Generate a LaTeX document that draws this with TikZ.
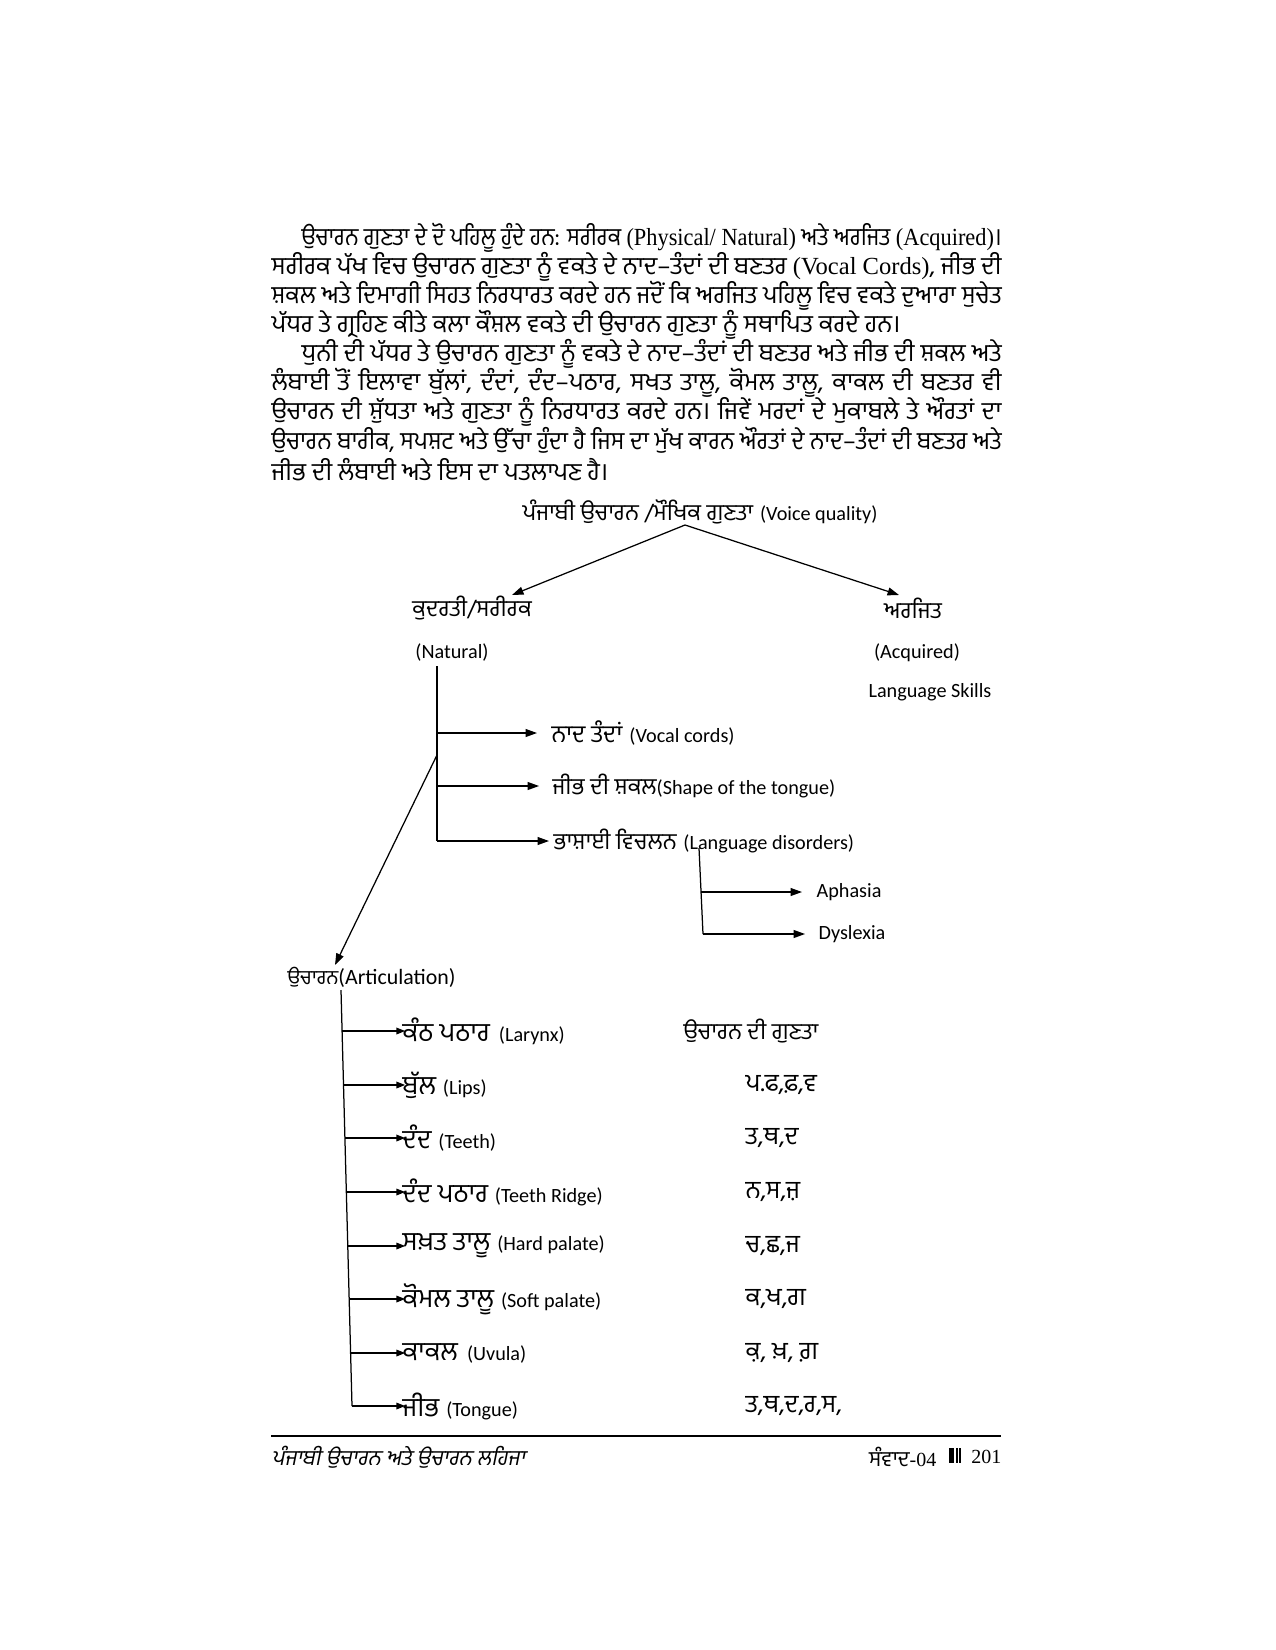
\documentclass[tikz,border=0pt]{standalone}
\usepackage{fontspec}
\usepackage{graphicx}
\usetikzlibrary{arrows.meta}
\newfontfamily\gurf[Script=Gurmukhi]{Hind Jalandhar}
\newfontfamily\gurit[Script=Gurmukhi,FakeSlant=0.2]{Hind Jalandhar}
\newfontfamily\calf{Carlito}
\newfontfamily\serf{Liberation Serif}
\newcommand\BL[1]{{\serf #1}}
\newcommand\DG[1]{{\gurf\fontsize{11bp}{13bp}\selectfont #1}}
\newcommand\DGb[1]{{\gurf\fontsize{11.6bp}{13bp}\selectfont #1}}
\newcommand\DGa[1]{{\gurf\fontsize{12.6bp}{14bp}\selectfont #1}}
\newcommand\DGc[1]{{\gurf\fontsize{12bp}{14bp}\selectfont #1}}
\newcommand\DL[1]{{\calf\fontsize{9.7bp}{12bp}\selectfont #1}}
\newsavebox\jbox
\newcommand\jline[2]{\sbox\jbox{#2}\ifdim\wd\jbox>#1\relax\resizebox{#1}{\height}{\usebox\jbox}\else\hbox to #1{\spaceskip=\fontdimen2\font plus 1fil minus 0.15\fontdimen2\font\relax #2}\fi}
\begin{document}
\begin{tikzpicture}[x=0.48bp,y=-0.48bp,line width=0.6bp,
  arr/.style={-{Triangle[length=5.5bp,width=3.8bp]}},
  arrs/.style={-{Triangle[length=4.2bp,width=3.2bp]}},
  body/.style={inner sep=0pt,anchor=west,font=\gurf\fontsize{11.8bp}{14bp}\selectfont},
  lbl/.style={inner sep=0pt},
  foot/.style={inner sep=0pt,font=\fontsize{10.3bp}{12bp}\selectfont}]
\useasboundingbox (0,0) rectangle (1275,1650);
\fill[white] (0,0) rectangle (1275,1650);
% ---------------- body text ----------------
\node[body] (p1) at (301,238.0) {\jline{336bp}{ਉਚਾਰਨ ਗੁਣਤਾ ਦੇ ਦੋ ਪਹਿਲੂ ਹੁੰਦੇ ਹਨ: ਸਰੀਰਕ \BL{(Physical/ Natural)} ਅਤੇ ਅਰਜਿਤ \BL{(Acquired)}।}};
\node[body] (p2) at (271,266.9) {\jline{350.4bp}{ਸਰੀਰਕ ਪੱਖ ਵਿਚ ਉਚਾਰਨ ਗੁਣਤਾ ਨੂੰ ਵਕਤੇ ਦੇ ਨਾਦ–ਤੰਦਾਂ ਦੀ ਬਣਤਰ \BL{(Vocal Cords)}, ਜੀਭ ਦੀ}};
\node[body] (p3) at (271,295.8) {\jline{350.4bp}{ਸ਼ਕਲ ਅਤੇ ਦਿਮਾਗੀ ਸਿਹਤ ਨਿਰਧਾਰਤ ਕਰਦੇ ਹਨ ਜਦੋਂ ਕਿ ਅਰਜਿਤ ਪਹਿਲੂ ਵਿਚ ਵਕਤੇ ਦੁਆਰਾ ਸੁਚੇਤ}};
\node[body] (p4) at (271,324.7) {ਪੱਧਰ ਤੇ ਗ੍ਰਹਿਣ ਕੀਤੇ ਕਲਾ ਕੌਸ਼ਲ ਵਕਤੇ ਦੀ ਉਚਾਰਨ ਗੁਣਤਾ ਨੂੰ ਸਥਾਪਿਤ ਕਰਦੇ ਹਨ।};
\node[body] (p5) at (301,353.6) {\jline{336bp}{ਧੁਨੀ ਦੀ ਪੱਧਰ ਤੇ ਉਚਾਰਨ ਗੁਣਤਾ ਨੂੰ ਵਕਤੇ ਦੇ ਨਾਦ–ਤੰਦਾਂ ਦੀ ਬਣਤਰ ਅਤੇ ਜੀਭ ਦੀ ਸ਼ਕਲ ਅਤੇ}};
\node[body] (p6) at (271,382.5) {\jline{350.4bp}{ਲੰਬਾਈ ਤੋਂ ਇਲਾਵਾ ਬੁੱਲਾਂ, ਦੰਦਾਂ, ਦੰਦ–ਪਠਾਰ, ਸਖਤ ਤਾਲੂ, ਕੋਮਲ ਤਾਲੂ, ਕਾਕਲ ਦੀ ਬਣਤਰ ਵੀ}};
\node[body] (p7) at (271,411.4) {\jline{350.4bp}{ਉਚਾਰਨ ਦੀ ਸ਼ੁੱਧਤਾ ਅਤੇ ਗੁਣਤਾ ਨੂੰ ਨਿਰਧਾਰਤ ਕਰਦੇ ਹਨ। ਜਿਵੇਂ ਮਰਦਾਂ ਦੇ ਮੁਕਾਬਲੇ ਤੇ ਔਰਤਾਂ ਦਾ}};
\node[body] (p8) at (271,440.3) {\jline{350.4bp}{ਉਚਾਰਨ ਬਾਰੀਕ, ਸਪਸ਼ਟ ਅਤੇ ਉੱਚਾ ਹੁੰਦਾ ਹੈ ਜਿਸ ਦਾ ਮੁੱਖ ਕਾਰਨ ਔਰਤਾਂ ਦੇ ਨਾਦ–ਤੰਦਾਂ ਦੀ ਬਣਤਰ ਅਤੇ}};
\node[body] (p9) at (271,469.2) {ਜੀਭ ਦੀ ਲੰਬਾਈ ਅਤੇ ਇਸ ਦਾ ਪਤਲਾਪਣ ਹੈ।};
% ---------------- diagram: top ----------------
\node[lbl] (title) at (700,512) {\DG{ਪੰਜਾਬੀ ਉਚਾਰਨ /ਮੌਖਿਕ ਗੁਣਤਾ} \DL{(Voice quality)}};
\node[lbl] (nat) at (472,608) {\DG{ਕੁਦਰਤੀ/ਸਰੀਰਕ}};
\node[lbl] (acq) at (913,608) {\DG{ਅਰਜਿਤ}};
\node[lbl] (natE) at (452,653) {\DL{(Natural)}};
\node[lbl] (acqE) at (917,653) {\DL{(Acquired)}};
\node[lbl] (skills) at (930,692) {\DL{Language Skills}};
\coordinate (apex) at (685,525);
\coordinate (natTip) at (512,595);
\coordinate (acqTip) at (899,595);
\draw[arr] (apex) -- (natTip);
\draw[arr] (apex) -- (acqTip);
% ---------------- natural branch ----------------
\coordinate (t1top) at (437,666);
\coordinate (n1) at (437,733);
\coordinate (n2) at (437,786);
\coordinate (n3) at (437,841);
\coordinate (d1) at (437,755);
\draw (t1top) -- (n3);
\node[lbl,anchor=west] (vocal) at (551,733) {\DGb{ਨਾਦ ਤੰਦਾਂ} \DL{(Vocal cords)}};
\node[lbl,anchor=west] (shape) at (552,786) {\DG{ਜੀਭ ਦੀ ਸ਼ਕਲ}\DL{(Shape of the tongue)}};
\node[lbl,anchor=west] (disord) at (553,841) {\DG{ਭਾਸ਼ਾਈ ਵਿਚਲਨ} \DL{(Language disorders)}};
\draw[arr,shorten >=6.7bp] (n1) -- (vocal.west);
\draw[arr,shorten >=6.2bp] (n2) -- (shape.west);
\draw[arr,shorten >=1.9bp] (n3) -- (disord.west);
% language disorders sub-branch
\coordinate (ld1) at (699,848);
\coordinate (ld2) at (701,892);
\coordinate (ld3) at (703,934);
\draw (ld1) -- (ld3);
\node[lbl,anchor=west] (aph) at (816,892) {\DL{Aphasia}};
\node[lbl,anchor=west] (dys) at (818,934) {\DL{Dyslexia}};
\draw[arr,shorten >=6.7bp] (ld2) -- (aph.west);
\draw[arr,shorten >=6.2bp] (ld3) -- (dys.west);
% ---------------- articulation ----------------
\node[lbl,anchor=west] (art) at (287,977) {{\gurf\fontsize{9.6bp}{12bp}\selectfont ਉਚਾਰਨ}{\calf\fontsize{10.5bp}{12bp}\selectfont(Articulation)}};
\coordinate (artTip) at (335,965);
\draw[arr] (d1) -- (artTip);
\coordinate (a0) at (341,990);
\coordinate (a1) at (342.1,1031);
\coordinate (a2) at (343.5,1085);
\coordinate (a3) at (344.9,1138);
\coordinate (a4) at (346.3,1192);
\coordinate (a5) at (347.8,1246);
\coordinate (a6) at (349.2,1299);
\coordinate (a7) at (350.6,1353);
\coordinate (a8) at (352,1406);
\draw (a0) -- (a8);
\node[lbl,anchor=west] (b1) at (402,1031) {\DGa{ਕੰਠ ਪਠਾਰ}\DL{\ \ (Larynx)}};
\node[lbl,anchor=west] (b2) at (402,1085) {\DGa{ਬੁੱਲ} \DL{(Lips)}};
\node[lbl,anchor=west] (b3) at (402,1138) {\DGa{ਦੰਦ} \DL{(Teeth)}};
\node[lbl,anchor=west] (b4) at (402,1192) {\DGa{ਦੰਦ ਪਠਾਰ} \DL{(Teeth Ridge)}};
\node[lbl,anchor=west] (b5) at (402,1246) {\DGa{ਸਖ਼ਤ ਤਾਲੂ} \DL{(Hard palate)}};
\node[lbl,anchor=west] (b6) at (402,1299) {\DGa{ਕੋਮਲ ਤਾਲੂ} \DL{(Soft palate)}};
\node[lbl,anchor=west] (b7) at (402,1353) {\DGa{ਕਾਕਲ}\DL{\ \ (Uvula)}};
\node[lbl,anchor=west] (b8) at (402,1406) {\DGa{ਜੀਭ} \DL{(Tongue)}};
\foreach \i in {1,...,8} {\draw[arrs,shorten >=-1.5bp] (a\i) -- (b\i.west);}
\node[lbl,anchor=west] (qh) at (683,1031) {\DG{ਉਚਾਰਨ ਦੀ ਗੁਣਤਾ}};
\node[lbl,anchor=west] (q2) at (745,1085) {\DGc{ਪ.ਫ,ਫ਼,ਵ}};
\node[lbl,anchor=west] (q3) at (745,1138) {\DGc{ਤ,ਥ,ਦ}};
\node[lbl,anchor=west] (q4) at (745,1192) {\DGc{ਨ,ਸ,ਜ਼}};
\node[lbl,anchor=west] (q5) at (745,1246) {\DGc{ਚ,ਛ,ਜ}};
\node[lbl,anchor=west] (q6) at (745,1299) {\DGc{ਕ,ਖ,ਗ}};
\node[lbl,anchor=west] (q7) at (745,1353) {\DGc{ਕ਼, ਖ਼, ਗ਼}};
\node[lbl,anchor=west] (q8) at (745,1406) {\DGc{ਤ,ਥ,ਦ,ਰ,ਸ,}};
% ---------------- footer ----------------
\coordinate (fl) at (271,1436);
\coordinate (fr) at (1001,1436);
\draw[line width=1.2bp] (fl) -- (fr);
\node[foot,anchor=west] (ftl) at (271,1457) {\gurit ਪੰਜਾਬੀ ਉਚਾਰਨ ਅਤੇ ਉਚਾਰਨ ਲਹਿਜਾ};
\node[foot,anchor=east] (pg) at (1002,1457) {\serf\fontsize{9.6bp}{12bp}\selectfont 201};
\node[foot,anchor=east] (ftr) at (937,1457) {\gurf ਸੰਵਾਦ\serf\fontsize{9.6bp}{12bp}\selectfont -04};
\fill (949,1448) rectangle (954,1463);
\fill (955.5,1448) rectangle (957.5,1463);
\fill (958.5,1448) rectangle (960.5,1463);
\end{tikzpicture}
\end{document}
